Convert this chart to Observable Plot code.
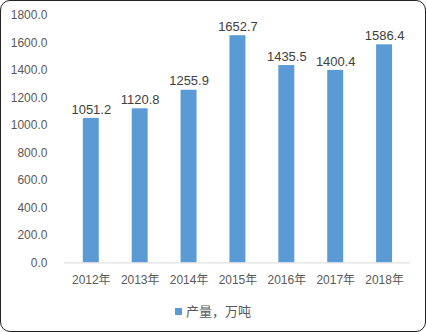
<!DOCTYPE html>
<html><head><meta charset="utf-8">
<script src="https://cdn.jsdelivr.net/npm/d3@7"></script>
<script src="https://cdn.jsdelivr.net/npm/@observablehq/plot@0.6"></script>
<style>
html,body{margin:0;padding:0;background:#fff;}
#frame{position:relative;width:426px;height:332px;box-sizing:border-box;border:1px solid #222;border-radius:10px;overflow:hidden;font-family:"Liberation Sans","Noto Sans CJK SC",sans-serif;}
#chart{position:absolute;left:-1px;top:-1px;}
#legend{position:absolute;left:0;right:0;top:302px;text-align:center;font-size:13px;line-height:18px;color:#595959;}
#legend .sw{display:inline-block;width:7px;height:7px;background:#5B9BD5;margin-right:4px;vertical-align:middle;position:relative;top:-1px;}
</style></head>
<body>
<div id="frame"><div id="chart"></div><div id="legend"><span class="sw"></span>产量，万吨</div></div>
<script>
const years = ["2012年","2013年","2014年","2015年","2016年","2017年","2018年"];
const values = [1051.2,1120.8,1255.9,1652.7,1435.5,1400.4,1586.4];
const yTicks = [0,200,400,600,800,1000,1200,1400,1600,1800];
const data = years.map((y,i)=>({year:y,value:values[i]}));
const fmt = d3.format(".1f");
const chart = Plot.plot({
  width:426, height:290,
  marginLeft:64, marginRight:15, marginTop:15, marginBottom:27,
  style:{fontFamily:'"Liberation Sans","Noto Sans CJK SC",sans-serif',fontSize:"12px",color:"#595959",background:"transparent"},
  x:{domain:years, paddingInner:0.68, paddingOuter:0.34, label:null, tickSize:0, tickPadding:13},
  y:{domain:[0,1800], ticks:yTicks, tickFormat:fmt, label:null, tickSize:0, tickPadding:17},
  marks:[
    Plot.barY(data,{x:"year",y:"value",fill:"#5B9BD5"}),
    Plot.ruleY([0],{stroke:"#d9d9d9",strokeWidth:1}),
    Plot.text(data,{x:"year",y:"value",text:d=>fmt(d.value),dy:-9,fill:"#404040",fontSize:13})
  ]
});
document.getElementById("chart").appendChild(chart);
</script>
</body></html>
